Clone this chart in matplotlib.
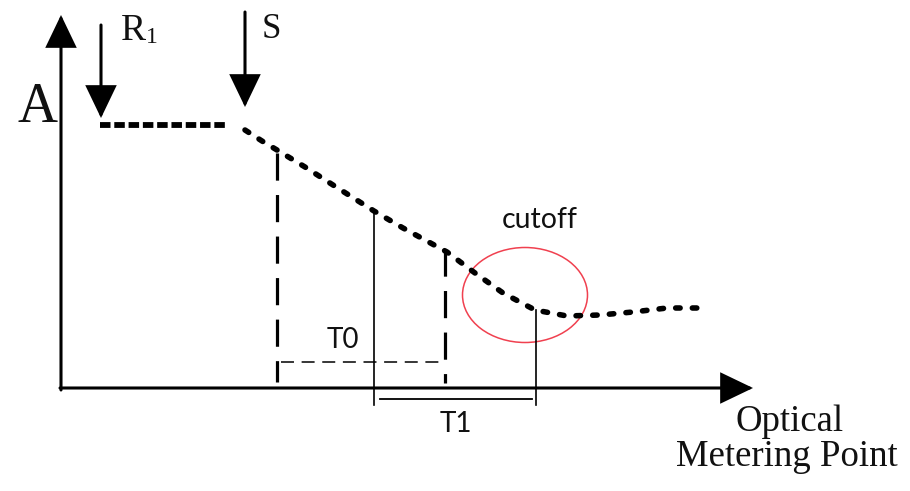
import matplotlib
matplotlib.use("Agg")
import matplotlib.pyplot as plt
from matplotlib.patches import FancyArrowPatch, Ellipse

# ---- data (pixel-space schematic) ----
flat_x = [100, 228]
flat_y = [125, 125]
curve_x = [245, 262, 277, 305, 333, 374, 403, 447, 475, 503, 535, 567, 600, 633, 667, 705]
curve_y = [130, 141, 150, 167, 185, 211, 228, 252, 273, 293, 310, 316, 315, 312, 308, 308]

t0_start, t0_end = 277, 445          # thick dashed markers
t1_start, t1_end = 374, 536          # thin solid markers
t0_top, t0_base = 150, 252
t1_top, t1_base = 211, 310

labels_serif = {"A": "A", "R": "R", "sub": "1", "S": "S"}
xlabel_lines = ["Optical", "Metering Point"]

SERIF = ["Liberation Serif", "DejaVu Serif"]
SANS = ["Lato", "Open Sans", "DejaVu Sans"]

fig = plt.figure(figsize=(9.1, 4.91), dpi=100)
ax = fig.add_axes([0, 0, 1, 1])
ax.set_xlim(0, 910)
ax.set_ylim(491, 0)
ax.axis("off")

def arrow(p0, p1, lw=2.2):
    a = FancyArrowPatch(p0, p1, arrowstyle="-|>,head_length=1.0,head_width=0.48",
                        mutation_scale=20, lw=lw, color="black",
                        shrinkA=0, shrinkB=0, joinstyle="miter")
    ax.add_patch(a)

# axes
arrow((61, 390), (61, 15))
arrow((60, 388), (753, 388))
# R1 and S arrows
arrow((101, 25), (101, 118))
arrow((245, 12), (245, 107))

# flat dotted segment
ax.plot(flat_x, flat_y, color="black", lw=4.2, linestyle=(0, (1.8, 0.65)),
        dash_capstyle="butt", solid_capstyle="butt")
# sloped dotted curve
ax.plot(curve_x, curve_y, color="black", lw=4.0, linestyle=(0, (0.8, 2.2)),
        dash_capstyle="round")

# thick dashed verticals
ax.plot([t0_start, t0_start], [t0_top + 3, 382], color="black", lw=2.3,
        linestyle=(0, (8.5, 4.5)))
ax.plot([t0_end, t0_end], [t0_base - 3, 383], color="black", lw=2.3,
        linestyle=(0, (8.5, 4.5)))
# T0 dashed horizontal
ax.plot([281, t0_end], [362, 362], color="black", lw=1.1, linestyle=(0, (8.5, 5.0)))

# thin solid verticals
ax.plot([t1_start, t1_start], [t1_top, 405], color="black", lw=1.2)
ax.plot([t1_end, t1_end], [t1_base, 405], color="black", lw=1.2)
# T1 horizontal
ax.plot([380, 532], [399, 399], color="black", lw=1.3)

# red ellipse
ax.add_patch(Ellipse((525, 295), 125, 95, fill=False, ec="#f0404f", lw=1.1))

# texts
tc = "#111111"
ax.text(18, 122, labels_serif["A"], family=SERIF, fontsize=40, color=tc, va="baseline", ha="left")
ax.text(121, 40, labels_serif["R"], family=SERIF, fontsize=27, color=tc, va="baseline", ha="left")
ax.text(146, 43, labels_serif["sub"], family=SERIF, fontsize=17, color=tc, va="baseline", ha="left")
ax.text(262, 38, labels_serif["S"], family=SERIF, fontsize=25, color=tc, va="baseline", ha="left")
ax.text(790, 431, xlabel_lines[0], family=SERIF, fontsize=26.5, color=tc, va="baseline", ha="center")
ax.text(787, 466, xlabel_lines[1], family=SERIF, fontsize=26.5, color=tc, va="baseline", ha="center")

ax.text(502, 228, "cutoff", family=SANS, fontsize=20.5, color=tc, va="baseline", ha="left")
ax.text(327, 348, "T0", family=SANS, fontsize=20, color=tc, va="baseline", ha="left")
ax.text(440, 432, "T1", family=SANS, fontsize=20, color=tc, va="baseline", ha="left")

fig.savefig("out.png", dpi=100)
